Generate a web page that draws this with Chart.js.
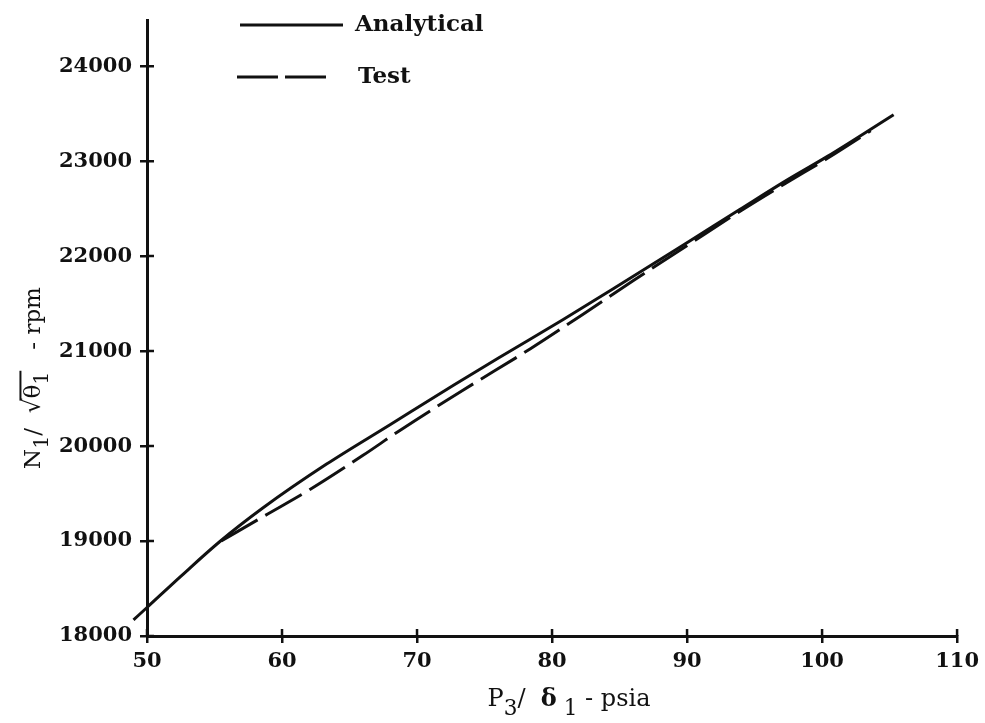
<!DOCTYPE html>
<html>
<head>
<meta charset="utf-8">
<script src="https://cdn.jsdelivr.net/npm/chart.js@4/dist/chart.umd.min.js"></script>
<style>
  html, body { margin: 0; padding: 0; background: #fff; }
  #wrap { width: 985px; height: 723px; position: relative; }
</style>
</head>
<body>
<div id="wrap"><canvas id="speedChart"></canvas></div>
<script>
// corrected pressure (psia) vs corrected speed (rpm)
const analyticalPsia = [49.0, 50.0, 52.5, 55.4, 58.6, 63.3, 68.0, 72.7, 76.0, 80.8, 84.8, 90.2, 93.9, 97.4, 100.4, 105.3];
const analyticalRpm  = [18170, 18300, 18628, 18995, 19350, 19810, 20225, 20640, 20925, 21330, 21680, 22160, 22490, 22800, 23050, 23489];

const testPsia = [55.5, 58.7, 62.1, 66.0, 68.7, 73.4, 78.4, 82.3, 86.0, 90.2, 93.9, 97.4, 100.4, 103.6];
const testRpm  = [19000, 19265, 19545, 19902, 20162, 20588, 21025, 21389, 21740, 22130, 22470, 22775, 23030, 23320];

const xTickValues = [50, 60, 70, 80, 90, 100, 110];
const yTickValues = [18000, 19000, 20000, 21000, 22000, 23000, 24000];

const seriesNames = ['Analytical', 'Test'];

const INK = '#111';
const SERIF = '"DejaVu Serif", "Liberation Serif", serif';

function toPoints(xs, ys) {
    return xs.map((x, i) => ({ x: x, y: ys[i] }));
}

// text runs with subscripts, bold pieces and an overbar (for the radical)
function runWidth(ctx, parts, size) {
    let w = 0;
    parts.forEach(p => {
        ctx.font = (p.bold ? 'bold ' : '') + (p.sub ? size * 0.9 : size) + 'px ' + SERIF;
        w += ctx.measureText(p.t).width;
    });
    return w;
}

function drawRun(ctx, parts, x, y, size) {
    let cx = x;
    parts.forEach(p => {
        const s = p.sub ? size * 0.9 : size;
        ctx.font = (p.bold ? 'bold ' : '') + s + 'px ' + SERIF;
        const dy = p.sub ? size * 0.36 : 0;
        ctx.fillText(p.t, cx, y + dy);
        const w = ctx.measureText(p.t).width;
        if (p.over) {
            ctx.beginPath();
            ctx.lineWidth = 2;
            ctx.moveTo(cx - 2, y - size * 0.85);
            ctx.lineTo(cx + w + 14, y - size * 0.85);
            ctx.stroke();
        }
        cx += w;
    });
}

const decorPlugin = {
    id: 'decor',
    afterDraw(chart) {
        const ctx = chart.ctx;
        const xs = chart.scales.x;
        const ys = chart.scales.y;
        const area = chart.chartArea;

        ctx.save();
        ctx.strokeStyle = INK;
        ctx.fillStyle = INK;

        // inner halves of the tick marks
        ctx.lineWidth = 2.5;
        ctx.beginPath();
        xTickValues.forEach(v => {
            const px = xs.getPixelForValue(v);
            ctx.moveTo(px, area.bottom);
            ctx.lineTo(px, area.bottom - 7);
        });
        yTickValues.forEach(v => {
            const py = ys.getPixelForValue(v);
            ctx.moveTo(area.left, py);
            ctx.lineTo(area.left + 7, py);
        });
        ctx.stroke();

        // legend
        const ds = chart.data.datasets;
        const rows = [
            { y: 25, x0: 240, x1: 343, tx: 355 },
            { y: 77, x0: 237, x1: 332, tx: 358 }
        ];
        rows.forEach((r, i) => {
            ctx.beginPath();
            ctx.lineWidth = 3;
            ctx.setLineDash(i === 1 ? [41, 7] : []);
            ctx.moveTo(r.x0, r.y);
            ctx.lineTo(r.x1, r.y);
            ctx.stroke();
            ctx.setLineDash([]);
            ctx.font = 'bold 23px ' + SERIF;
            ctx.textAlign = 'left';
            ctx.textBaseline = 'middle';
            ctx.fillText(ds[i].label, r.tx, r.y);
        });

        // x axis title
        ctx.textAlign = 'left';
        ctx.textBaseline = 'alphabetic';
        const xTitle = [
            { t: 'P' }, { t: '3', sub: true }, { t: '/  ' },
            { t: 'δ', bold: true }, { t: ' 1', sub: true }, { t: ' - psia' }
        ];
        const xw = runWidth(ctx, xTitle, 24);
        drawRun(ctx, xTitle, 569 - xw / 2, 706, 24);

        // y axis title
        const yTitle = [
            { t: 'N' }, { t: '1', sub: true }, { t: '/  ' },
            { t: '√' }, { t: 'θ', over: true }, { t: '1', sub: true }, { t: '   - rpm' }
        ];
        ctx.translate(40, 378);
        ctx.rotate(-Math.PI / 2);
        const yw = runWidth(ctx, yTitle, 23);
        drawRun(ctx, yTitle, -yw / 2, 0, 23);

        ctx.restore();
    }
};

const ctx = document.getElementById('speedChart').getContext('2d');

const speedChart = new Chart(ctx, {
    type: 'line',
    data: {
        datasets: [{
            label: seriesNames[0],
            data: toPoints(analyticalPsia, analyticalRpm),
            borderColor: INK,
            borderWidth: 3,
            pointRadius: 0,
            cubicInterpolationMode: 'monotone',
            clip: false
        }, {
            label: seriesNames[1],
            data: toPoints(testPsia, testRpm),
            borderColor: INK,
            borderWidth: 3,
            borderDash: [42, 9],
            pointRadius: 0,
            cubicInterpolationMode: 'monotone',
            clip: false
        }]
    },
    options: {
        responsive: true,
        maintainAspectRatio: false,
        animation: false,
        layout: {
            padding: { top: 13, right: 27, left: 0, bottom: 0 }
        },
        plugins: {
            legend: { display: false },
            tooltip: { enabled: false }
        },
        scales: {
            x: {
                type: 'linear',
                min: 50,
                max: 110,
                afterBuildTicks: (scale) => {
                    scale.ticks = xTickValues.map(v => ({ value: v }));
                },
                afterFit: (scale) => { scale.height = 87; },
                border: { display: true, color: INK, width: 3 },
                grid: {
                    drawOnChartArea: false,
                    drawTicks: true,
                    tickLength: 7,
                    color: INK,
                    lineWidth: 2.5
                },
                ticks: {
                    color: INK,
                    padding: 6,
                    maxRotation: 0,
                    font: { family: SERIF, size: 21, weight: 'bold' }
                }
            },
            y: {
                type: 'linear',
                min: 18000,
                max: 24480,
                afterBuildTicks: (scale) => {
                    scale.ticks = yTickValues.map(v => ({ value: v }));
                },
                afterFit: (scale) => { scale.width = 147; },
                border: { display: true, color: INK, width: 3 },
                grid: {
                    drawOnChartArea: false,
                    drawTicks: true,
                    tickLength: 7,
                    color: INK,
                    lineWidth: 2.5
                },
                ticks: {
                    color: INK,
                    padding: 8,
                    callback: (v) => String(v),
                    font: { family: SERIF, size: 21, weight: 'bold' }
                }
            }
        }
    },
    plugins: [decorPlugin]
});
</script>
</body>
</html>
